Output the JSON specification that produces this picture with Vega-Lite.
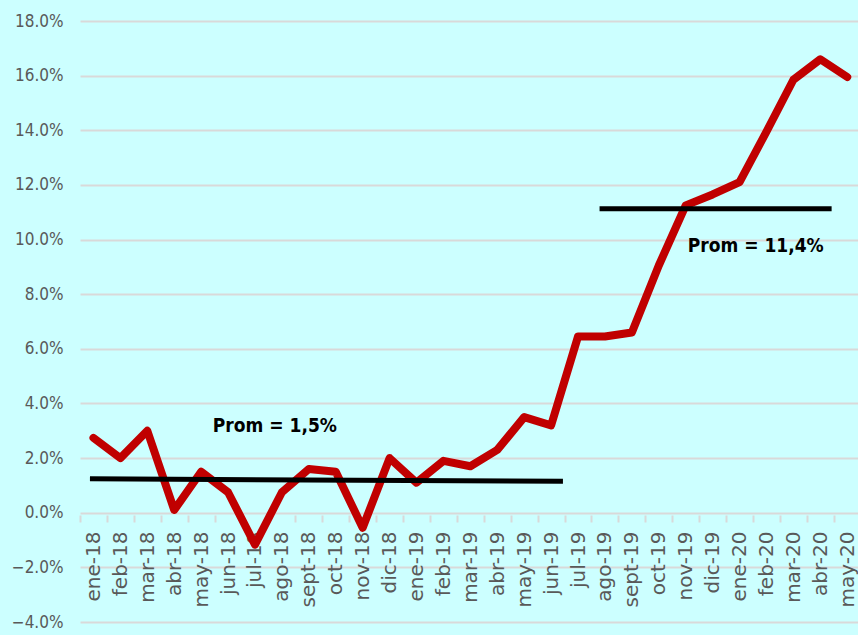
{
  "$schema": "https://vega.github.io/schema/vega-lite/v6.json",
  "width": 778,
  "height": 601,
  "autosize": {"type": "none"},
  "padding": {"left": 80, "top": 21, "right": 0, "bottom": 13},
  "background": "#CCFFFF",
  "config": {"view": {"stroke": null}},
  "datasets": {
    "series": [
      {"i": 0, "mes": "ene-18", "v": 2.74},
      {"i": 1, "mes": "feb-18", "v": 2.0},
      {"i": 2, "mes": "mar-18", "v": 3.0},
      {"i": 3, "mes": "abr-18", "v": 0.1},
      {"i": 4, "mes": "may-18", "v": 1.5},
      {"i": 5, "mes": "jun-18", "v": 0.75},
      {"i": 6, "mes": "jul-18", "v": -1.17},
      {"i": 7, "mes": "ago-18", "v": 0.75},
      {"i": 8, "mes": "sept-18", "v": 1.6},
      {"i": 9, "mes": "oct-18", "v": 1.5},
      {"i": 10, "mes": "nov-18", "v": -0.55},
      {"i": 11, "mes": "dic-18", "v": 2.0},
      {"i": 12, "mes": "ene-19", "v": 1.1},
      {"i": 13, "mes": "feb-19", "v": 1.9},
      {"i": 14, "mes": "mar-19", "v": 1.7},
      {"i": 15, "mes": "abr-19", "v": 2.3},
      {"i": 16, "mes": "may-19", "v": 3.5},
      {"i": 17, "mes": "jun-19", "v": 3.2},
      {"i": 18, "mes": "jul-19", "v": 6.45},
      {"i": 19, "mes": "ago-19", "v": 6.45},
      {"i": 20, "mes": "sept-19", "v": 6.6},
      {"i": 21, "mes": "oct-19", "v": 9.05},
      {"i": 22, "mes": "nov-19", "v": 11.25},
      {"i": 23, "mes": "dic-19", "v": 11.65},
      {"i": 24, "mes": "ene-20", "v": 12.1},
      {"i": 25, "mes": "feb-20", "v": 13.95},
      {"i": 26, "mes": "mar-20", "v": 15.85},
      {"i": 27, "mes": "abr-20", "v": 16.6},
      {"i": 28, "mes": "may-20", "v": 15.95}
    ],
    "avg": [
      {"i": -0.13, "i2": 17.44, "v": 1.24, "v2": 1.15},
      {"i": 18.8, "i2": 27.42, "v": 11.13, "v2": 11.13}
    ],
    "labels": [
      {"i": 6.74, "v": 3.18, "t": "Prom = 1,5%"},
      {"i": 24.6, "v": 9.77, "t": "Prom = 11,4%"}
    ]
  },
  "encoding": {
    "x": {
      "field": "i", "type": "quantitative",
      "scale": {"domain": [-0.5, 28.4], "nice": false, "zero": false},
      "axis": {
        "title": null,
        "orient": "bottom",
        "offset": -107,
        "values": [-0.5, 0.5, 1.5, 2.5, 3.5, 4.5, 5.5, 6.5, 7.5, 8.5, 9.5, 10.5, 11.5, 12.5, 13.5, 14.5, 15.5, 16.5, 17.5, 18.5, 19.5, 20.5, 21.5, 22.5, 23.5, 24.5, 25.5, 26.5, 27.5],
        "labelExpr": "['ene-18','feb-18','mar-18','abr-18','may-18','jun-18','jul-18','ago-18','sept-18','oct-18','nov-18','dic-18','ene-19','feb-19','mar-19','abr-19','may-19','jun-19','jul-19','ago-19','sept-19','oct-19','nov-19','dic-19','ene-20','feb-20','mar-20','abr-20','may-20'][round(datum.value + 0.5)]",
        "labelOffset": 13.46,
        "labelAngle": -90,
        "labelFont": "DejaVu Sans",
        "labelFontSize": 20,
        "labelColor": "#595959",
        "labelPadding": 9,
        "labelOverlap": false,
        "labelFlush": false,
        "labelBound": false,
        "domain": false,
        "grid": false,
        "ticks": true,
        "tickColor": "#D9D9D9",
        "tickWidth": 2,
        "tickSize": 7
      }
    },
    "y": {
      "field": "v", "type": "quantitative",
      "scale": {"domain": [-4, 18], "nice": false, "zero": false},
      "axis": {
        "title": null,
        "values": [-4, -2, 0, 2, 4, 6, 8, 10, 12, 14, 16, 18],
        "labelExpr": "format(datum.value, '.1f') + '%'",
        "labelFont": "DejaVu Sans Condensed, Roboto",
        "labelFontSize": 17,
        "labelColor": "#595959",
        "labelPadding": 17,
        "domain": false,
        "ticks": false,
        "grid": true,
        "gridColor": "#D9D9D9",
        "gridWidth": 2
      }
    }
  },
  "layer": [
    {
      "data": {"name": "series"},
      "mark": {"type": "line", "color": "#C00000", "strokeWidth": 8, "strokeCap": "round", "strokeJoin": "round"}
    },
    {
      "data": {"name": "avg"},
      "mark": {"type": "rule", "color": "#000000", "strokeWidth": 5},
      "encoding": {
        "x2": {"field": "i2"},
        "y2": {"field": "v2"}
      }
    },
    {
      "data": {"name": "labels"},
      "mark": {"type": "text", "font": "DejaVu Sans Condensed, Roboto", "fontWeight": "bold", "fontSize": 19, "color": "#000000", "align": "center", "baseline": "middle"},
      "encoding": {
        "text": {"field": "t"}
      }
    }
  ]
}
